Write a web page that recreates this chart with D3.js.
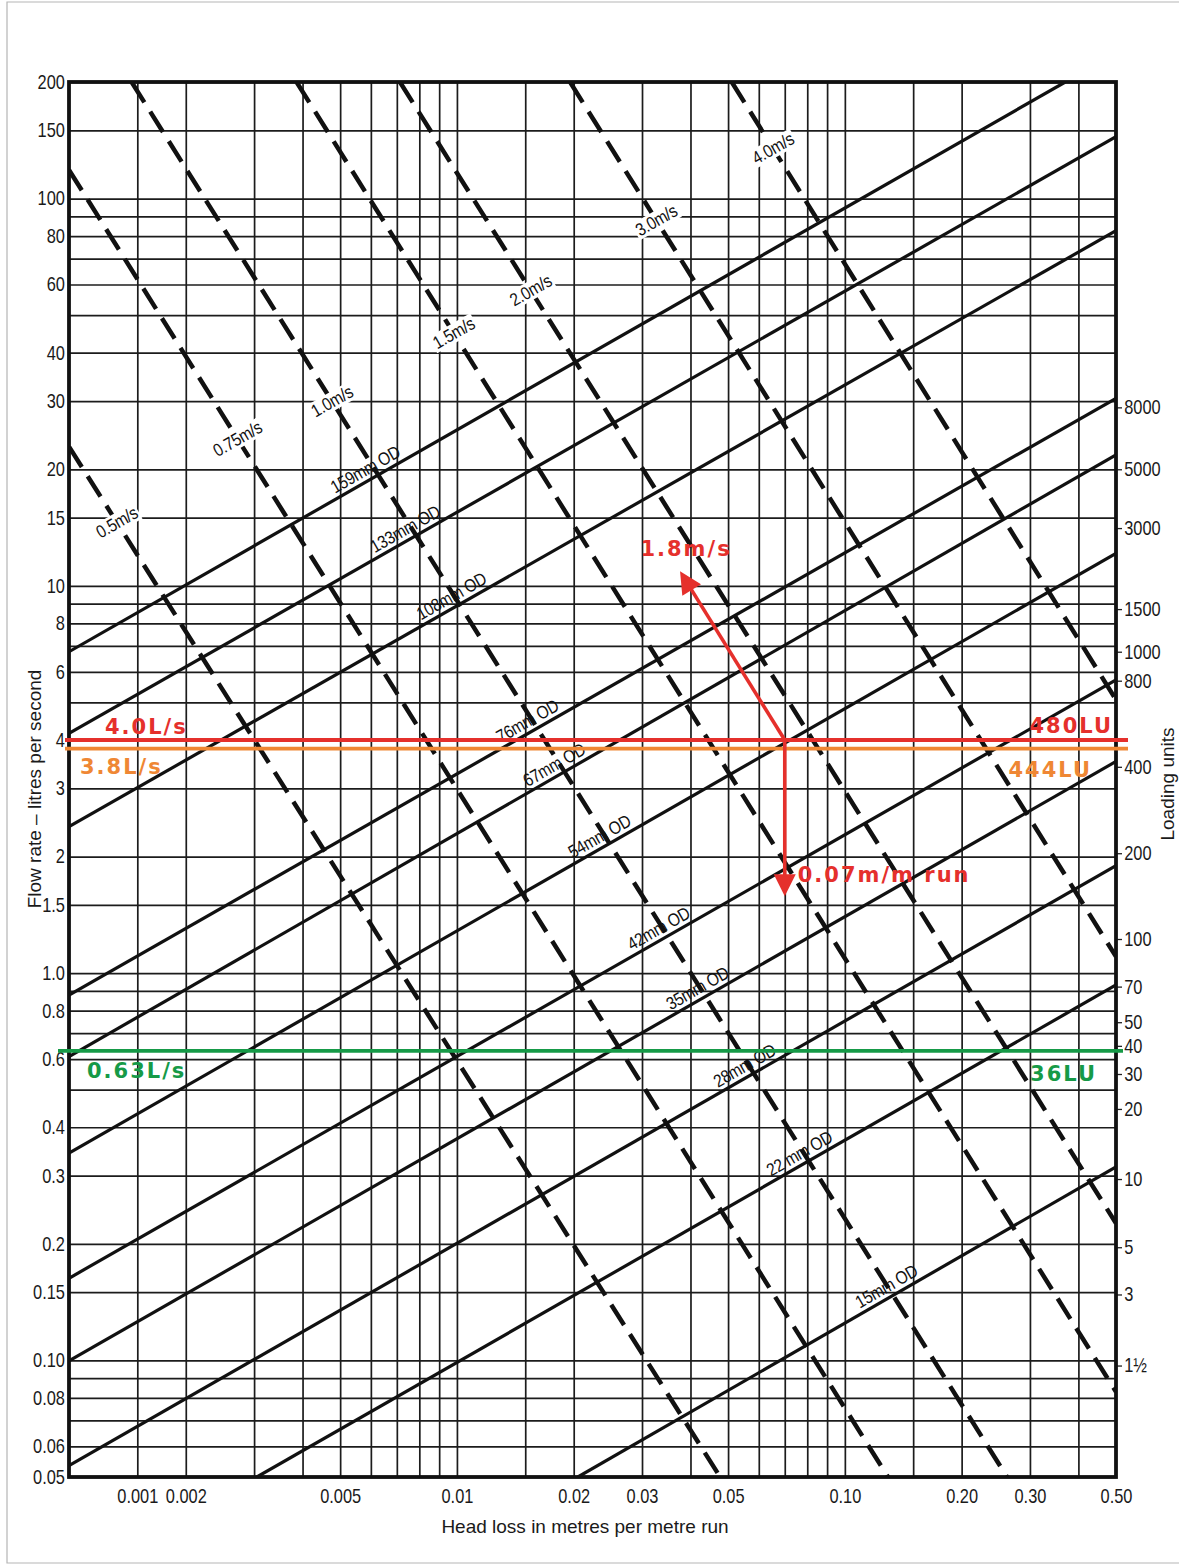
<!DOCTYPE html>
<html>
<head>
<meta charset="utf-8">
<title>Pipe sizing chart</title>
<script src="https://d3js.org/d3.v7.min.js"></script>
<style>
  body { margin: 0; background: #fff; }
  svg { display: block; }
  .num { font-family: "Liberation Sans", Arial, sans-serif; font-size: 20px; fill: #1a1a1a; }
  .title { font-family: "Liberation Sans", Arial, sans-serif; font-size: 19px; fill: #1a1a1a; }
  .line-label { font-family: "Liberation Sans", Arial, sans-serif; font-size: 18px; letter-spacing: -0.3px; fill: #111; }
  .mark { font-family: "DejaVu Sans", Verdana, sans-serif; font-weight: bold; font-size: 21px; letter-spacing: 2px; }
</style>
</head>
<body>
<svg width="1183" height="1567"></svg>
<script>
// grid values (flow in L/s, head loss in m/m)
var flowGrid = [0.05,0.06,0.07,0.08,0.09,0.1,0.15,0.2,0.3,0.4,0.5,0.6,0.7,0.8,0.9,1,1.5,2,3,4,5,6,7,8,9,10,15,20,30,40,50,60,70,80,90,100,150,200];
var headGrid = [0.0015,0.002,0.003,0.004,0.005,0.006,0.007,0.008,0.009,0.01,0.015,0.02,0.03,0.04,0.05,0.06,0.07,0.08,0.09,0.1,0.15,0.2,0.3,0.4];

var flowTicks = [200,150,100,80,60,40,30,20,15,10,8,6,4,3,2,1.5,1,0.8,0.6,0.4,0.3,0.2,0.15,0.1,0.08,0.06,0.05];
var flowTickLabels = ["200","150","100","80","60","40","30","20","15","10","8","6","4","3","2","1.5","1.0","0.8","0.6","0.4","0.3","0.2","0.15","0.10","0.08","0.06","0.05"];
var headTicks = [0.0015,0.002,0.005,0.01,0.02,0.03,0.05,0.1,0.2,0.3,0.5];
var headTickLabels = ["0.001","0.002","0.005","0.01","0.02","0.03","0.05","0.10","0.20","0.30","0.50"];

// loading units scale on the right, placed at the equivalent flow rate
var luTickLabels = ["8000","5000","3000","1500","1000","800","400","200","100","70","50","40","30","20","10","5","3","1\u00bd"];
var luTickFlow = [28.9,20.0,14.1,8.71,6.76,5.69,3.41,2.04,1.225,0.923,0.747,0.649,0.549,0.446,0.294,0.196,0.148,0.097];

// pipe size lines: [head loss, flow] at both ends
var pipeNames = ["159mm OD","133mm OD","108mm OD","76mm OD","67mm OD","54mm OD","42mm OD","35mm OD","28mm OD","22 mm OD","15mm OD"];
var pipeFrom = [[0.001,6.76],[0.001,4.16],[0.001,2.39],[0.001,0.878],[0.001,0.609],[0.001,0.343],[0.001,0.163],[0.001,0.0997],[0.001,0.0535],[0.00305,0.05],[0.0205,0.05]];
var pipeTo = [[0.37,200],[0.5,144.5],[0.5,82.6],[0.5,30.5],[0.5,21.8],[0.5,12.13],[0.5,5.72],[0.5,3.52],[0.5,1.895],[0.5,0.932],[0.5,0.316]];
var pipeLabelHead = [0.0060,0.0076,0.0100,0.0157,0.0184,0.0241,0.0342,0.0431,0.057,0.0789,0.1323];

// velocity lines
var velNames = ["0.5m/s","0.75m/s","1.0m/s","1.5m/s","2.0m/s","3.0m/s","4.0m/s"];
var velFrom = [[0.001,22.88],[0.001,118.6],[0.00145,200],[0.00386,200],[0.00713,200],[0.01957,200],[0.0511,200]];
var velTo = [[0.0477,0.05],[0.1292,0.05],[0.2619,0.05],[0.5,0.083],[0.5,0.226],[0.5,1.103],[0.5,5.08]];
var velLabelFlow = [14.6,24,30,45,58,88,135];

// worked example annotations
var markFlow = [4.0, 3.8, 0.63];
var markFlowText = ["4.0L/s","3.8L/s","0.63L/s"];
var markLuText = ["480LU","444LU","36LU"];
var designPoint = [0.07, 4.0];
var velArrowTip = [0.0376, 10.9];
var headArrowTip = [0.07, 1.58];
var velArrowText = "1.8m/s";
var headArrowText = "0.07m/m run";

var markColors = ["#e5302c", "#ef8734", "#169a47"];

var svg = d3.select("svg"),
    pL = 69, pR = 1116, pT = 82, pB = 1477;

var x = d3.scaleLog().domain([0.001, 0.5]).range([pL, pR]);
var y = d3.scaleLog().domain([0.05, 200]).range([pB, pT]);

// faint page border
svg.append("path")
  .attr("d", "M1179,2 L7,2 L7,1563 L1179,1563")
  .attr("fill", "none").attr("stroke", "#b5b5b5").attr("stroke-width", 1.2);

svg.append("clipPath").attr("id", "plot")
  .append("rect").attr("x", pL).attr("y", pT).attr("width", pR - pL).attr("height", pB - pT);

// grid
svg.append("g")
  .attr("transform", `translate(${pL},0)`)
  .call(d3.axisLeft(y).tickValues(flowGrid).tickSize(-(pR - pL)).tickFormat(""))
  .call(g => g.select(".domain").remove())
  .selectAll("line").attr("stroke", "#1c1c1c").attr("stroke-width", 1.7);

svg.append("g")
  .attr("transform", `translate(0,${pB})`)
  .call(d3.axisBottom(x).tickValues(headGrid).tickSize(-(pB - pT)).tickFormat(""))
  .call(g => g.select(".domain").remove())
  .selectAll("line").attr("stroke", "#1c1c1c").attr("stroke-width", 1.7);

// axis labels
var yAxis = svg.append("g")
  .attr("transform", `translate(${pL},0)`)
  .call(d3.axisLeft(y).tickValues(flowTicks).tickSize(0).tickPadding(5).tickFormat((d, i) => flowTickLabels[i]));
yAxis.select(".domain").remove();

var xAxis = svg.append("g")
  .attr("transform", `translate(0,${pB})`)
  .call(d3.axisBottom(x).tickValues(headTicks).tickSize(0).tickPadding(12).tickFormat((d, i) => headTickLabels[i]));
xAxis.select(".domain").remove();

var luAxis = svg.append("g")
  .attr("transform", `translate(${pR},0)`)
  .call(d3.axisRight(y).tickValues(luTickFlow).tickSize(6).tickPadding(4).tickFormat((d, i) => luTickLabels[i]));
luAxis.select(".domain").remove();
luAxis.selectAll("line").attr("stroke", "#222").attr("stroke-width", 1.3);

// condensed look of the printed numbers
[yAxis, xAxis, luAxis].forEach(a => a.attr("font-size", null).attr("font-family", null));
svg.selectAll(".tick text").attr("class", "num").attr("transform", "scale(0.82,1)");

// frame
svg.append("rect")
  .attr("x", pL).attr("y", pT).attr("width", pR - pL).attr("height", pB - pT)
  .attr("fill", "none").attr("stroke", "#111").attr("stroke-width", 3.8);

var lines = svg.append("g").attr("clip-path", "url(#plot)");

function interpAtHead(a, b, h) {
  var t = (Math.log(h) - Math.log(a[0])) / (Math.log(b[0]) - Math.log(a[0]));
  return Math.exp(Math.log(a[1]) + t * (Math.log(b[1]) - Math.log(a[1])));
}
function interpAtFlow(a, b, q) {
  var t = (Math.log(q) - Math.log(a[1])) / (Math.log(b[1]) - Math.log(a[1]));
  return Math.exp(Math.log(a[0]) + t * (Math.log(b[0]) - Math.log(a[0])));
}
function angleOf(a, b) {
  return Math.atan2(y(b[1]) - y(a[1]), x(b[0]) - x(a[0])) * 180 / Math.PI;
}

// pipe lines
lines.selectAll(".pipe")
  .data(pipeNames)
  .enter().append("line")
  .attr("class", "pipe")
  .attr("x1", (d, i) => x(pipeFrom[i][0])).attr("y1", (d, i) => y(pipeFrom[i][1]))
  .attr("x2", (d, i) => x(pipeTo[i][0])).attr("y2", (d, i) => y(pipeTo[i][1]))
  .attr("stroke", "#111").attr("stroke-width", 3.2);

// velocity lines
lines.selectAll(".vel")
  .data(velNames)
  .enter().append("line")
  .attr("class", "vel")
  .attr("x1", (d, i) => x(velFrom[i][0])).attr("y1", (d, i) => y(velFrom[i][1]))
  .attr("x2", (d, i) => x(velTo[i][0])).attr("y2", (d, i) => y(velTo[i][1]))
  .attr("stroke", "#111").attr("stroke-width", 4.5)
  .attr("stroke-dasharray", "24,11");

var labelAngle = angleOf(pipeFrom[1], pipeTo[1]);

// velocity labels with a white gap in the dashes
velNames.forEach(function (name, i) {
  var q = velLabelFlow[i], h = interpAtFlow(velFrom[i], velTo[i], q);
  var g = svg.append("g").attr("transform", `translate(${x(h)},${y(q)}) rotate(${labelAngle}) scale(0.86,1)`);
  var t = g.append("text").attr("class", "line-label").attr("text-anchor", "middle").attr("dy", "0.35em").text(name);
  var bb = t.node().getBBox();
  g.insert("rect", "text").attr("x", bb.x - 2).attr("y", bb.y + 1).attr("width", bb.width + 4).attr("height", bb.height - 2).attr("fill", "#fff");
});

// pipe labels sit just above their line
pipeNames.forEach(function (name, i) {
  var h = pipeLabelHead[i], q = interpAtHead(pipeFrom[i], pipeTo[i], h);
  svg.append("text")
    .attr("class", "line-label")
    .attr("text-anchor", "middle")
    .attr("transform", `translate(${x(h)},${y(q)}) rotate(${angleOf(pipeFrom[i], pipeTo[i])}) scale(0.86,1)`)
    .attr("dy", -5)
    .text(name);
});

// axis titles
svg.append("text").attr("class", "title").attr("text-anchor", "middle")
  .attr("transform", "translate(41,789) rotate(-90)").text("Flow rate \u2013 litres per second");
svg.append("text").attr("class", "title").attr("text-anchor", "middle")
  .attr("transform", "translate(1174,784) rotate(-90)").text("Loading units");
svg.append("text").attr("class", "title").attr("text-anchor", "middle")
  .attr("x", 585).attr("y", 1533).text("Head loss in metres per metre run");

// horizontal flow marks
var ann = svg.append("g");
var flowDy = [-6, 25, 27], luDy = [-7, 28, 30];
markFlow.forEach(function (q, i) {
  var yy = y(q), c = markColors[i];
  ann.append("line")
    .attr("x1", i == 2 ? pL - 11 : pL - 4).attr("x2", i == 2 ? pR + 7 : pR + 12)
    .attr("y1", yy).attr("y2", yy)
    .attr("stroke", c).attr("stroke-width", i == 0 ? 4 : 3.6);
  ann.append("text").attr("class", "mark").attr("fill", c)
    .attr("x", [105, 80, 87][i]).attr("y", yy + flowDy[i]).text(markFlowText[i]);
  ann.append("text").attr("class", "mark").attr("fill", c).attr("text-anchor", "end")
    .attr("x", [1113, 1092, 1097][i]).attr("y", yy + luDy[i]).text(markLuText[i]);
});

// arrows from the design point
function arrow(from, to, color) {
  var x0 = x(from[0]), y0 = y(from[1]), x1 = x(to[0]), y1 = y(to[1]);
  var dx = x1 - x0, dy = y1 - y0, len = Math.sqrt(dx * dx + dy * dy);
  var ux = dx / len, uy = dy / len, L = 22, W = 11;
  var bx = x1 - ux * L, by = y1 - uy * L;
  ann.append("line").attr("x1", x0).attr("y1", y0).attr("x2", bx + ux * 2).attr("y2", by + uy * 2)
    .attr("stroke", color).attr("stroke-width", 3.6);
  ann.append("path")
    .attr("d", `M${x1},${y1} L${bx - uy * W},${by + ux * W} L${bx + uy * W},${by - ux * W} Z`)
    .attr("fill", color);
}
arrow(designPoint, velArrowTip, markColors[0]);
arrow(designPoint, headArrowTip, markColors[0]);

ann.append("text").attr("class", "mark").attr("fill", markColors[0]).attr("text-anchor", "middle")
  .attr("x", x(velArrowTip[0]) + 6).attr("y", y(velArrowTip[1]) - 15).text(velArrowText);
ann.append("text").attr("class", "mark").attr("fill", markColors[0])
  .attr("x", x(headArrowTip[0]) + 13).attr("y", y(headArrowTip[1]) - 14).text(headArrowText);
</script>
</body>
</html>
